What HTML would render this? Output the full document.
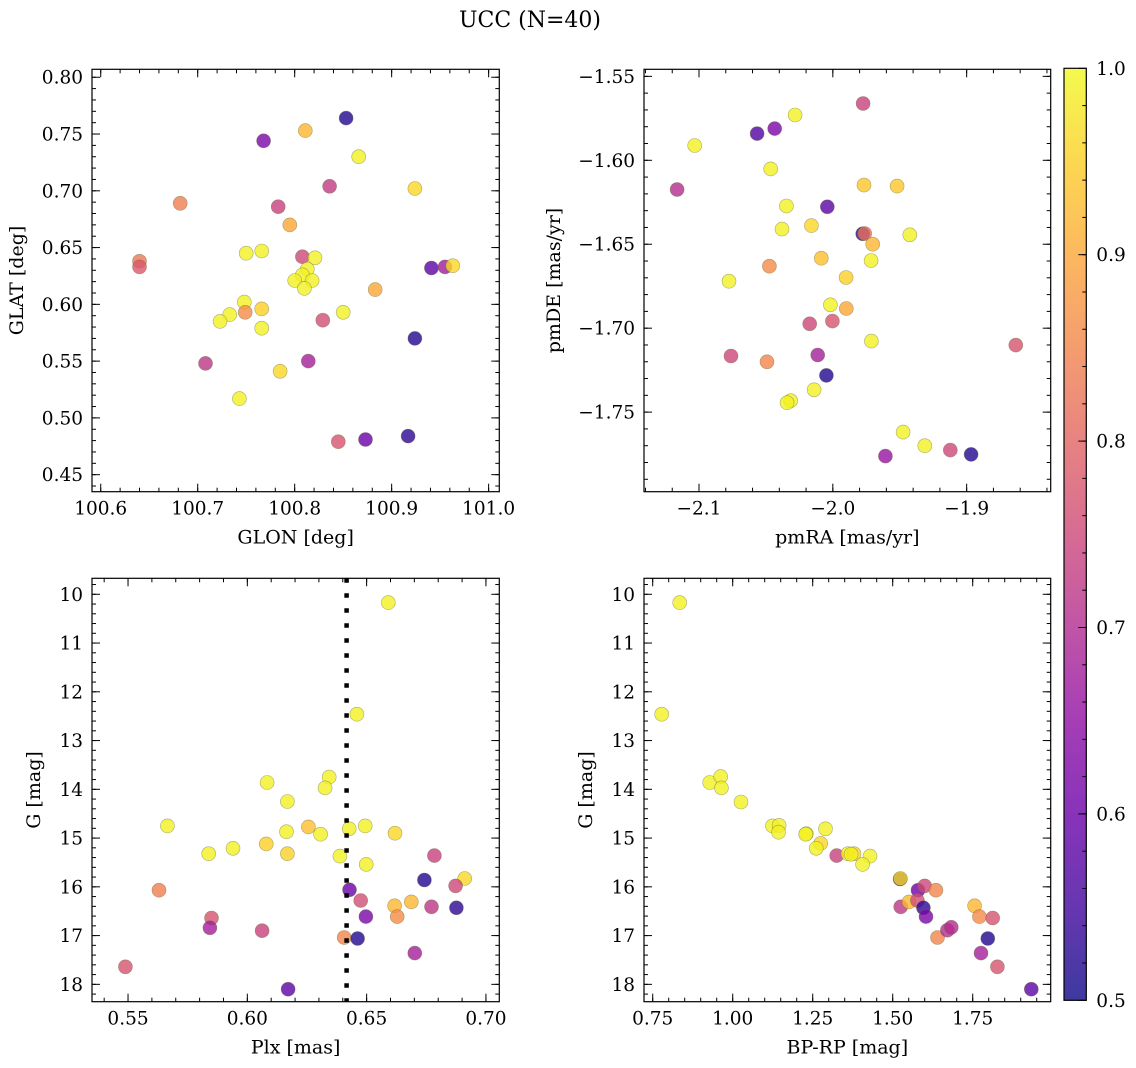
<!DOCTYPE html>
<html><head><meta charset="utf-8">
<style>
html,body{margin:0;padding:0;background:#fff;}
svg{display:block;font-family:"DejaVu Serif","Liberation Serif",serif;}
</style></head>
<body>
<svg id="fig" width="1136" height="1068" viewBox="0 0 1136 1068" xmlns="http://www.w3.org/2000/svg">
<text x="530" y="27" font-size="22" text-anchor="middle">UCC (N=40)</text>
</svg>
<script>
// Panel 1: GLON vs GLAT
const GLON=[100.853,100.768,100.811,100.866,100.836,100.924,100.682,100.783,100.795,100.640,100.640,100.750,100.766,100.808,100.821,100.813,100.808,100.800,100.818,100.810,100.941,100.955,100.963,100.883,100.748,100.749,100.766,100.733,100.723,100.766,100.829,100.850,100.924,100.814,100.708,100.785,100.743,100.845,100.873,100.917];
const GLAT=[0.764,0.744,0.753,0.730,0.704,0.702,0.689,0.686,0.670,0.638,0.633,0.645,0.647,0.642,0.641,0.631,0.626,0.621,0.621,0.614,0.632,0.633,0.634,0.613,0.602,0.593,0.596,0.591,0.585,0.579,0.586,0.593,0.570,0.550,0.548,0.541,0.517,0.479,0.481,0.484];
const PROB1=[0.52,0.62,0.92,0.99,0.73,0.96,0.84,0.74,0.90,0.83,0.78,0.99,0.99,0.75,0.99,0.99,0.99,0.99,0.99,0.99,0.58,0.67,0.96,0.90,0.99,0.86,0.95,0.99,0.99,0.99,0.76,0.99,0.52,0.68,0.72,0.96,0.99,0.77,0.60,0.53];
// Panel 2: pmRA vs pmDE
const PMRA=[-1.9774,-2.0282,-2.0434,-2.0566,-2.1032,-2.0464,-2.1164,-1.9767,-1.9520,-2.0347,-2.0041,-2.0380,-2.0160,-1.9777,-1.9762,-1.9425,-1.9702,-1.9714,-2.0474,-2.0086,-2.0776,-1.9901,-2.0018,-1.9899,-2.0173,-2.0003,-1.9712,-1.8633,-2.0761,-2.0492,-2.0113,-2.0048,-2.0140,-2.0315,-2.0342,-1.9475,-1.9313,-1.9122,-1.8967,-1.9607];
const PMDE=[-1.5662,-1.5730,-1.5811,-1.5841,-1.5912,-1.6051,-1.6174,-1.6148,-1.6154,-1.6272,-1.6277,-1.6410,-1.6389,-1.6438,-1.6436,-1.6444,-1.6500,-1.6597,-1.6631,-1.6583,-1.6720,-1.6698,-1.6861,-1.6883,-1.6974,-1.6958,-1.7077,-1.7101,-1.7166,-1.7200,-1.7160,-1.7281,-1.7367,-1.7432,-1.7444,-1.7619,-1.7700,-1.7726,-1.7752,-1.7762];
const PROB2=[0.74,0.99,0.62,0.57,0.99,0.99,0.70,0.94,0.94,0.99,0.58,0.99,0.96,0.52,0.82,0.99,0.92,0.99,0.86,0.93,0.99,0.95,0.99,0.90,0.75,0.77,0.99,0.77,0.75,0.85,0.68,0.52,0.99,0.99,0.99,0.99,0.99,0.75,0.52,0.66];
// Panel 3: Plx vs G
const PLX=[0.6591,0.6459,0.6083,0.6343,0.6326,0.6168,0.5665,0.6256,0.6164,0.6307,0.6427,0.6494,0.6619,0.5838,0.5940,0.6079,0.6168,0.6388,0.6498,0.6784,0.5630,0.6428,0.6742,0.6911,0.6873,0.6475,0.6617,0.6687,0.6772,0.6876,0.6497,0.6628,0.5850,0.5843,0.6062,0.6406,0.6462,0.6702,0.5489,0.6171];
const GMAG3=[10.17,12.46,13.86,13.75,13.97,14.25,14.75,14.77,14.87,14.92,14.81,14.75,14.90,15.32,15.21,15.12,15.32,15.37,15.54,15.36,16.07,16.06,15.86,15.83,15.98,16.28,16.39,16.31,16.41,16.43,16.61,16.61,16.64,16.84,16.90,17.04,17.06,17.36,17.64,18.10];
const PROB3=[0.99,0.99,0.99,0.99,0.99,0.99,0.99,0.93,0.99,0.99,0.99,0.99,0.96,0.99,0.99,0.95,0.95,0.99,0.99,0.74,0.84,0.60,0.52,0.96,0.75,0.76,0.92,0.92,0.72,0.53,0.62,0.86,0.77,0.68,0.74,0.85,0.52,0.68,0.77,0.58];
const PLX_LINE=0.6416;
// Panel 4: BP-RP vs G
const BPRP=[0.8344,0.7781,0.9281,0.9625,0.9646,1.026,1.124,1.145,1.143,1.230,1.228,1.290,1.275,1.261,1.325,1.360,1.379,1.429,1.406,1.523,1.524,1.579,1.600,1.635,1.525,1.551,1.577,1.596,1.604,1.640,1.671,1.683,1.756,1.771,1.8125,1.797,1.776,1.827,1.933,1.370];
const GMAG4=[10.17,12.46,13.86,13.74,13.97,14.26,14.75,14.74,14.88,14.91,14.92,14.81,15.11,15.21,15.36,15.32,15.32,15.37,15.54,15.84,15.83,16.07,15.98,16.07,16.41,16.31,16.28,16.43,16.61,17.04,16.89,16.83,16.39,16.61,16.64,17.06,17.36,17.64,18.10,15.33];
const PROB4=[0.99,0.99,0.99,0.99,0.99,0.99,0.99,0.99,0.99,0.99,0.99,0.99,0.96,0.99,0.74,0.99,0.96,0.99,0.99,0.52,0.96,0.60,0.75,0.85,0.72,0.92,0.76,0.53,0.62,0.85,0.70,0.70,0.92,0.86,0.77,0.52,0.68,0.77,0.58,0.99];
const CB_TICKS=[0.5,0.6,0.7,0.8,0.9,1.0];
const GTICKS=[10,11,12,13,14,15,16,17,18];

const TICK_FS=18.5, LABEL_FS=19;
const NS='http://www.w3.org/2000/svg';
const svg=document.getElementById('fig');
const PLASMA=['#0d0887','#41049d','#6a00a8','#8f0da4','#b12a90','#cc4778','#e16462','#f2844b','#fca636','#fcce25','#f0f921'];
function hex(c){return [parseInt(c.substr(1,2),16),parseInt(c.substr(3,2),16),parseInt(c.substr(5,2),16)];}
function cmap(p){
  let t=Math.max(0,Math.min(1,(p-0.5)/0.5))*10;
  let i=Math.min(9,Math.floor(t)),f=t-i;
  const a=hex(PLASMA[i]),b=hex(PLASMA[i+1]);
  return 'rgb('+a.map((v,k)=>Math.round(v+(b[k]-v)*f)).join(',')+')';
}
function mk(tag,attrs,parent){
  const e=document.createElementNS(NS,tag);
  for(const k in attrs)e.setAttribute(k,attrs[k]);
  (parent||svg).appendChild(e);return e;
}
function fmt(v,d){return (v<0?'\u2212':'')+Math.abs(v).toFixed(d);}
function range(a,b,s){const r=[];for(let v=a;v<=b+s*1e-6;v+=s)r.push(+v.toFixed(6));return r;}

function panel(cfg){
  const g=mk('g',{});
  
  
  const sx=v=>cfg.x0+(v-cfg.xmin)/(cfg.xmax-cfg.xmin)*(cfg.x1-cfg.x0);
  const sy=v=>cfg.y1-(v-cfg.ymin)/(cfg.ymax-cfg.ymin)*(cfg.y1-cfg.y0);
  const inY=v=>{const y=sy(v);return y>=cfg.y0-0.5&&y<=cfg.y1+0.5;};
  const inX=v=>{const x=sx(v);return x>=cfg.x0-0.5&&x<=cfg.x1+0.5;};
  const pg=mk('g',{},g);
  
  
  for(let i=0;i<cfg.xs.length;i++){
    const c=mk('circle',{cx:sx(cfg.xs[i]).toFixed(1),cy:sy(cfg.ys[i]).toFixed(1),r:7,fill:cmap(cfg.ps[i]),'fill-opacity':0.8,stroke:'#6b6b3a','stroke-opacity':0.55,'stroke-width':0.6},pg);
    
    
  }
  if(cfg.vline!==undefined){
    const l=mk('line',{x1:sx(cfg.vline),x2:sx(cfg.vline),y1:cfg.y0,y2:cfg.y1,stroke:'#000','stroke-width':4.5,'stroke-dasharray':'4.5 10.5'},g);
    
    
  }
  const tg=mk('g',{stroke:'#000','stroke-width':1},g);
  
  
  cfg.xminor.filter(inX).forEach(v=>{const x=sx(v);
    mk('line',{x1:x,x2:x,y1:cfg.y1,y2:cfg.y1-4},tg);mk('line',{x1:x,x2:x,y1:cfg.y0,y2:cfg.y0+4},tg);});
  cfg.yminor.filter(inY).forEach(v=>{const y=sy(v);
    mk('line',{x1:cfg.x0,x2:cfg.x0+4,y1:y,y2:y},tg);mk('line',{x1:cfg.x1,x2:cfg.x1-4,y1:y,y2:y},tg);});
  cfg.xmaj.forEach(v=>{const x=sx(v);
    mk('line',{x1:x,x2:x,y1:cfg.y1,y2:cfg.y1-8},tg);mk('line',{x1:x,x2:x,y1:cfg.y0,y2:cfg.y0+8},tg);
    const t=mk('text',{x:x,y:cfg.y1+23,'font-size':TICK_FS,'text-anchor':'middle'},g);
    
    
    t.textContent=fmt(v,cfg.xd);});
  cfg.ymaj.forEach(v=>{const y=sy(v);
    mk('line',{x1:cfg.x0,x2:cfg.x0+8,y1:y,y2:y},tg);mk('line',{x1:cfg.x1,x2:cfg.x1-8,y1:y,y2:y},tg);
    const t=mk('text',{x:cfg.x0-9,y:y+6.5,'font-size':TICK_FS,'text-anchor':'end'},g);
    
    
    t.textContent=fmt(v,cfg.yd);});
  const fr=mk('rect',{x:cfg.x0,y:cfg.y0,width:cfg.x1-cfg.x0,height:cfg.y1-cfg.y0,fill:'none',stroke:'#000','stroke-width':1.2},g);
  
  
  const xl=mk('text',{x:(cfg.x0+cfg.x1)/2,y:cfg.y1+52,'font-size':LABEL_FS,'text-anchor':'middle'},g);
  
  
  xl.textContent=cfg.xlabel;
  const yc=(cfg.y0+cfg.y1)/2;
  const yl=mk('text',{x:cfg.ylx,y:yc,'font-size':LABEL_FS,'text-anchor':'middle',transform:'rotate(-90 '+cfg.ylx+' '+yc+')'},g);
  
  
  yl.textContent=cfg.ylabel;
}

panel({name:'glon-glat-panel',x0:92,x1:499.3,y0:69.3,y1:491.7,xmin:100.591,xmax:101.011,ymin:0.435,ymax:0.807,
  xs:GLON,ys:GLAT,ps:PROB1,xmaj:range(100.6,101.0,0.1),xminor:range(100.58,101.02,0.02),xd:1,
  ymaj:range(0.45,0.80,0.05),yminor:range(0.43,0.81,0.01),yd:2,xlabel:'GLON [deg]',ylabel:'GLAT [deg]',ylx:23});
panel({name:'pm-panel',x0:644,x1:1050.7,y0:69.3,y1:491.7,xmin:-2.1411,xmax:-1.8372,ymin:-1.7974,ymax:-1.5458,
  xs:PMRA,ys:PMDE,ps:PROB2,xmaj:[-2.1,-2.0,-1.9],xminor:range(-2.14,-1.84,0.02),xd:1,
  ymaj:[-1.75,-1.70,-1.65,-1.60,-1.55],yminor:range(-1.80,-1.54,0.01),yd:2,xlabel:'pmRA [mas/yr]',ylabel:'pmDE [mas/yr]',ylx:560});
panel({name:'plx-g-panel',x0:92,x1:499.3,y0:578.3,y1:1001.7,xmin:0.5349,xmax:0.7056,ymin:-18.356,ymax:-9.672,
  xs:PLX,ys:GMAG3.map(v=>-v),ps:PROB3,vline:PLX_LINE,xmaj:[0.55,0.60,0.65,0.70],xminor:range(0.54,0.70,0.01),xd:2,
  ymaj:[],yminor:range(-18.4,-9.6,0.2),yd:0,xlabel:'Plx [mas]',ylabel:'G [mag]',ylx:40});
panel({name:'cmd-panel',x0:644,x1:1050.7,y0:578.3,y1:1001.7,xmin:0.7228,xmax:1.9937,ymin:-18.356,ymax:-9.672,
  xs:BPRP,ys:GMAG4.map(v=>-v),ps:PROB4,xmaj:[0.75,1.00,1.25,1.50,1.75],xminor:range(0.75,2.0,0.05),xd:2,
  ymaj:[],yminor:range(-18.4,-9.6,0.2),yd:0,xlabel:'BP-RP [mag]',ylabel:'G [mag]',ylx:592});

[[92,499.3],[644,1050.7]].forEach(([x0,x1])=>{
  const y0=578.3,y1=1001.7,sy=v=>y0+(v-9.672)/(18.356-9.672)*(y1-y0);
  GTICKS.forEach(v=>{const y=sy(v);
    mk('line',{x1:x0,x2:x0+8,y1:y,y2:y,stroke:'#000','stroke-width':1});
    mk('line',{x1:x1,x2:x1-8,y1:y,y2:y,stroke:'#000','stroke-width':1});
    const t=mk('text',{x:x0-9,y:y+6.5,'font-size':TICK_FS,'text-anchor':'end'});
    
    
    t.textContent=String(v);});
});

const defs=mk('defs',{});
const gr=mk('linearGradient',{id:'cbg',x1:0,y1:1,x2:0,y2:0},defs);
PLASMA.forEach((c,i)=>mk('stop',{offset:(i/10),'stop-color':c,'stop-opacity':0.8},gr));
const cbx0=1064,cbx1=1086.3,cby0=68.3,cby1=1000.3;
const cbs=v=>cby1-(v-0.5)/0.5*(cby1-cby0);
const cb=mk('rect',{x:cbx0,y:cby0,width:cbx1-cbx0,height:cby1-cby0,fill:'url(#cbg)',stroke:'#000','stroke-width':1.2});


range(0.52,0.98,0.02).forEach(v=>{const y=cbs(v);mk('line',{x1:cbx1,x2:cbx1-4,y1:y,y2:y,stroke:'#000','stroke-width':1});});
CB_TICKS.forEach(v=>{const y=cbs(v);
  mk('line',{x1:cbx1,x2:cbx1-8,y1:y,y2:y,stroke:'#000','stroke-width':1});
  const t=mk('text',{x:cbx1+10,y:y+6.5,'font-size':TICK_FS,'text-anchor':'start'});
  
  
  t.textContent=v.toFixed(1);});
</script>
</body></html>
